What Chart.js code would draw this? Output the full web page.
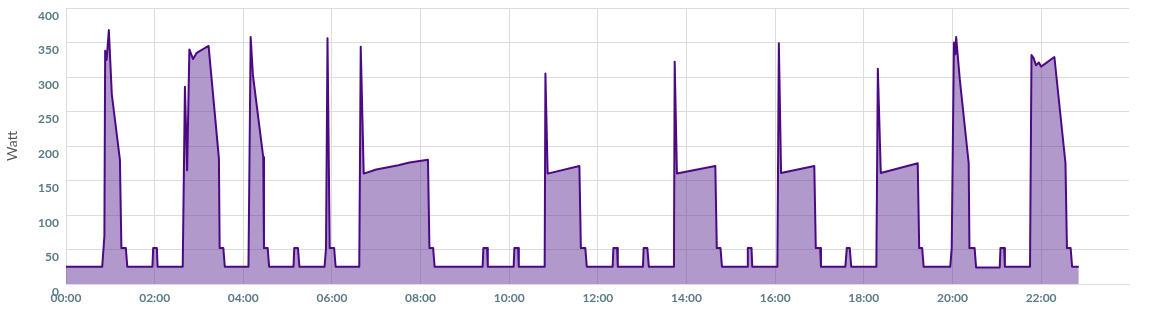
<!DOCTYPE html>
<html>
<head>
<meta charset="utf-8">
<script src="https://cdn.jsdelivr.net/npm/chart.js@4/dist/chart.umd.min.js"></script>
<style>
  body { margin: 0; background: #fff; }
  #powerChart { display: block; }
</style>
</head>
<body>
<canvas id="powerChart" width="1150" height="310"></canvas>
<script>
// time of day in minutes after midnight
var minutes = [
    0, 49, 52, 53, 55, 58, 62, 73, 75, 81, 83,
    117, 118, 123, 124,
    158, 161, 164, 167, 172, 177, 193, 207, 208, 213, 215,
    247, 250, 253, 267, 268, 273, 275,
    308, 309, 314, 316,
    350, 352, 354, 357, 363, 365,
    397, 399, 403, 420, 450, 465, 490, 492, 497, 499,
    564, 565, 570, 571,
    606, 607, 612, 613,
    648, 649, 652, 695, 697, 703, 705,
    740, 741, 746, 747,
    781, 782, 787, 789,
    823, 824, 827, 879, 881, 886, 888,
    922, 923, 928, 929,
    963, 965, 968, 1013, 1015, 1021, 1022,
    1055, 1057, 1061, 1063,
    1097, 1099, 1103, 1153, 1155, 1159, 1161,
    1197, 1199, 1202, 1204, 1205, 1210, 1222, 1223, 1230, 1232,
    1264, 1265, 1270, 1271,
    1305, 1307, 1310, 1313, 1317, 1320, 1338, 1353, 1355, 1360, 1362, 1371
];

// measured power in Watt
var watts = [
    25, 25, 70, 338, 325, 368, 275, 180, 52, 52, 25,
    25, 52, 52, 25,
    25, 286, 165, 340, 326, 335, 345, 182, 52, 52, 25,
    25, 358, 303, 184, 52, 52, 25,
    25, 52, 52, 25,
    25, 52, 356, 52, 52, 25,
    25, 344, 160, 166, 172, 176, 180, 52, 52, 25,
    25, 52, 52, 25,
    25, 52, 52, 25,
    25, 305, 160, 171, 52, 52, 25,
    25, 52, 52, 25,
    25, 52, 52, 25,
    25, 322, 160, 171, 52, 52, 25,
    25, 52, 52, 25,
    25, 349, 161, 171, 52, 52, 25,
    25, 52, 52, 25,
    25, 312, 161, 175, 52, 52, 25,
    25, 52, 350, 333, 358, 296, 175, 52, 52, 24,
    24, 52, 52, 25,
    25, 332, 327, 317, 321, 315, 329, 175, 52, 52, 25, 25
];

// tick positions (minutes) for the time axis, every two hours
var xTicks = [0, 120, 240, 360, 480, 600, 720, 840, 960, 1080, 1200, 1320];
var yTicks = [0, 50, 100, 150, 200, 250, 300, 350, 400];

function pad(n) {
    return (n < 10 ? '0' : '') + n;
}

function minutesToLabel(m) {
    return pad(Math.floor(m / 60)) + ':' + pad(m % 60);
}

var points = [];
for (var i = 0; i < minutes.length; i++) {
    points.push({ x: minutes[i], y: watts[i] });
}

var gridColor = '#dcdcdc';
var tickColor = '#5b7b85';
var tickFont = { family: 'Lato', size: 12, weight: 'bold' };

var ctx = document.getElementById('powerChart').getContext('2d');
var powerChart = new Chart(ctx, {
    type: 'line',
    data: {
        datasets: [{
            label: 'Watt',
            data: points,
            borderColor: '#4b0a84',
            backgroundColor: 'rgba(102, 51, 153, 0.5)',
            borderWidth: 2,
            borderJoinStyle: 'round',
            fill: 'origin',
            tension: 0,
            pointRadius: 0
        }]
    },
    options: {
        responsive: false,
        animation: false,
        devicePixelRatio: 1,
        layout: { padding: { top: 8, right: 21, left: 0, bottom: 0 } },
        plugins: {
            legend: { display: false },
            tooltip: { enabled: false }
        },
        scales: {
            x: {
                type: 'linear',
                min: 0,
                max: 1439,
                grid: { color: gridColor, drawTicks: false },
                border: { color: gridColor },
                afterBuildTicks: function (scale) {
                    scale.ticks = xTicks.map(function (v) { return { value: v }; });
                },
                ticks: {
                    autoSkip: false,
                    maxRotation: 0,
                    padding: 7,
                    color: tickColor,
                    font: tickFont,
                    callback: function (value) { return minutesToLabel(value); }
                },
                afterFit: function (scale) {
                    scale.height = 26;
                    scale.paddingLeft = 0;
                    scale.paddingRight = 0;
                }
            },
            y: {
                min: yTicks[0],
                max: yTicks[yTicks.length - 1],
                grid: { color: gridColor, drawTicks: false },
                border: { color: gridColor },
                afterBuildTicks: function (scale) {
                    scale.ticks = yTicks.map(function (v) { return { value: v }; });
                },
                title: {
                    display: true,
                    text: 'Watt',
                    color: '#555',
                    font: { family: 'Lato', size: 14 }
                },
                ticks: {
                    padding: 7,
                    labelOffset: 8,
                    color: tickColor,
                    font: tickFont
                },
                afterFit: function (scale) {
                    scale.width = 66;
                    scale.paddingTop = 0;
                    scale.paddingBottom = 0;
                }
            }
        }
    }
});
</script>
</body>
</html>
